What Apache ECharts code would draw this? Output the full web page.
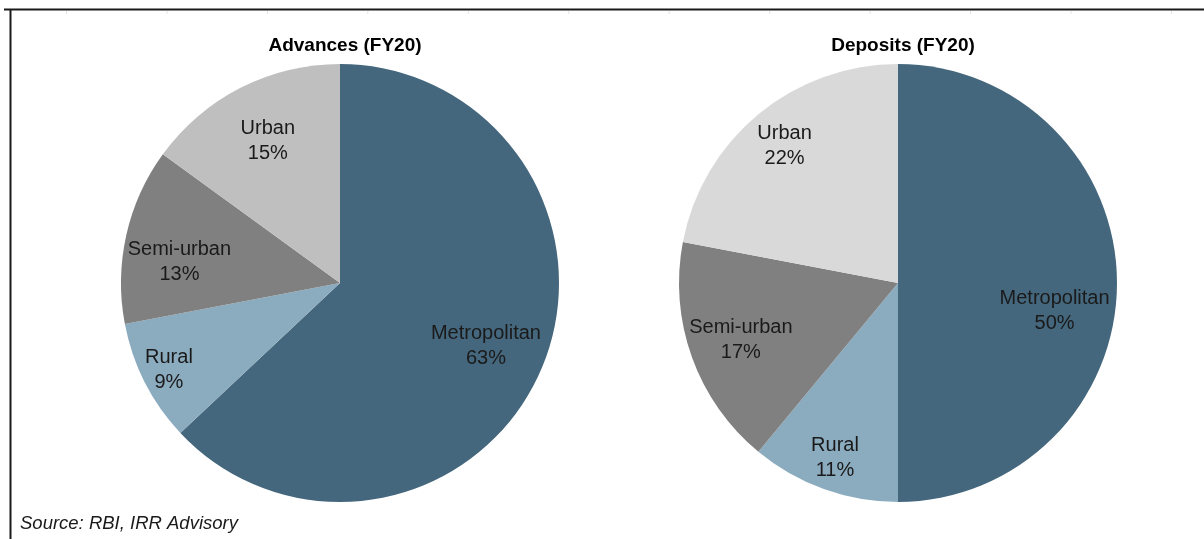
<!DOCTYPE html>
<html>
<head>
<meta charset="utf-8">
<script src="https://cdn.jsdelivr.net/npm/echarts@6/dist/echarts.min.js"></script>
<style>
html,body{margin:0;padding:0;background:#fff;}
#chart{width:1204px;height:539px;}
</style>
</head>
<body>
<div id="chart"></div>
<script>
// ---- data ----
const categories = ['Metropolitan', 'Rural', 'Semi-urban', 'Urban'];
const advancesValues = [63, 9, 13, 15];
const depositsValues = [50, 11, 17, 22];
const chartTitles = ['Advances (FY20)', 'Deposits (FY20)'];
const sourceText = 'Source: RBI, IRR Advisory';

// ---- styles ----
const FONT = '"Liberation Sans", Arial, sans-serif';
const R = 219;
const centers = [[340, 283], [898, 283]];
const sliceColors = [
  ['#44677D', '#8BABBF', '#808080', '#BFBFBF'],
  ['#44677D', '#8BABBF', '#808080', '#D9D9D9']
];
// label placement per slice: distance from centre (px) and angular shift (deg, clockwise)
const labelPlace = [
  { dist: [156, 189, 159, 156], shift: [0, 0, -5, 0] },
  { dist: [156, 183, 164, 175], shift: [10, 0, 0, 0] }
];

function buildSeries(values, idx) {
  const out = [{
    type: 'pie',
    center: centers[idx],
    radius: [0, R],
    startAngle: 90,
    clockwise: true,
    silent: true,
    label: { show: false },
    labelLine: { show: false },
    data: categories.map((c, i) => ({
      name: c,
      value: values[i],
      itemStyle: { color: sliceColors[idx][i], borderWidth: 0 }
    })),
    animation: false
  }];
  categories.forEach((c, k) => {
    const d = labelPlace[idx].dist[k];
    out.push({
      type: 'pie',
      center: centers[idx],
      radius: [2 * d - R, R],
      startAngle: 90 - labelPlace[idx].shift[k],
      clockwise: true,
      silent: true,
      z: 5,
      labelLine: { show: false },
      data: categories.map((name, i) => ({
        name: name,
        value: values[i],
        itemStyle: { color: 'rgba(0,0,0,0)', borderWidth: 0 },
        label: {
          show: i === k,
          position: 'inside',
          formatter: '{b}\n{c}%',
          fontFamily: FONT,
          fontSize: 20,
          lineHeight: 25,
          color: '#1a1a1a',
          align: 'center'
        }
      })),
      animation: false
    });
  });
  return out;
}

const topTicks = [];
for (let i = 0; i < 12; i++) {
  topTicks.push({
    type: 'line',
    shape: { x1: 66.5 + i * 100.45, y1: 11, x2: 66.5 + i * 100.45, y2: 14 },
    style: { stroke: '#e4e4e4', lineWidth: 1 },
    silent: true
  });
}

const option = {
  backgroundColor: '#ffffff',
  animation: false,
  title: chartTitles.map((t, i) => ({
    text: t,
    left: centers[i][0],
    top: 31,
    textAlign: 'center',
    textStyle: { fontFamily: FONT, fontSize: 19, fontWeight: 'bold', color: '#000' }
  })),
  series: buildSeries(advancesValues, 0).concat(buildSeries(depositsValues, 1)),
  graphic: [
    {
      type: 'line',
      shape: { x1: 4, y1: 9.5, x2: 1204, y2: 9.5 },
      style: { stroke: '#1a1a1a', lineWidth: 2 },
      silent: true
    },
    {
      type: 'line',
      shape: { x1: 10.5, y1: 9, x2: 10.5, y2: 539 },
      style: { stroke: '#1a1a1a', lineWidth: 2 },
      silent: true
    },
    {
      type: 'text',
      left: 20,
      top: 514,
      style: {
        text: sourceText,
        fontFamily: FONT,
        fontSize: 18.5,
        fontStyle: 'italic',
        fill: '#1a1a1a'
      },
      silent: true
    }
  ].concat(topTicks)
};

const chart = echarts.init(document.getElementById('chart'), null, { renderer: 'canvas' });
chart.setOption(option);
</script>
</body>
</html>
